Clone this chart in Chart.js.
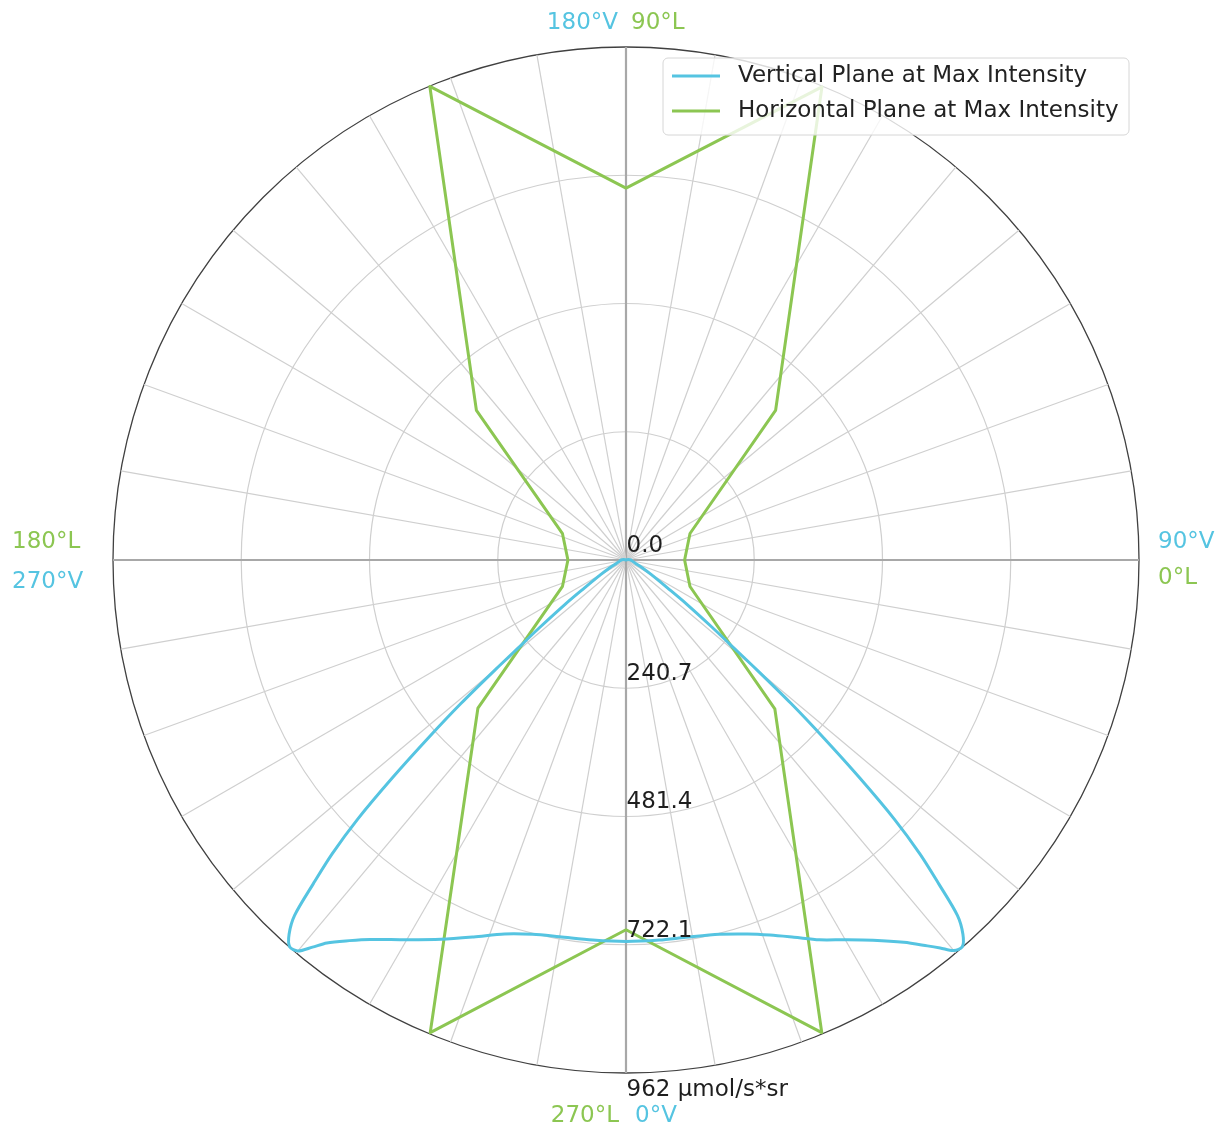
<!DOCTYPE html>
<html>
<head>
<meta charset="utf-8">
<title>Photon intensity distribution</title>
<script src="https://cdn.jsdelivr.net/npm/chart.js@4.4.1/dist/chart.umd.min.js"></script>
<style>
  html, body { margin: 0; padding: 0; background: #ffffff; }
  canvas { display: block; }
</style>
</head>
<body>
<canvas id="polar" width="1218" height="1131"></canvas>
<script>
// Vertical plane at max intensity: angle in degrees (0° = nadir, counter-clockwise), intensity in µmol/s*sr
const V_ANGLES = [0, 5, 9, 14, 18, 21, 24, 27, 30, 33, 36, 38, 39, 40, 41, 42, 43, 44, 45, 46, 47, 48, 49, 50,
                  51, 52, 54, 56, 60, 65, 70, 80, 90, 100, 110, 180, 250, 260, 270, 280, 290, 295, 300, 304,
                  306, 308, 309, 310, 311, 312, 313, 314, 315, 316, 317, 318, 319, 320, 321, 322, 324, 326,
                  330, 334, 338, 342, 346, 350, 355];
const V_VALUES = [716, 716, 717, 724, 738, 754, 775, 800, 823, 851, 887, 919, 937, 957, 962, 945, 912, 845, 780, 700,
                  600, 500, 410, 320, 250, 205, 140, 95, 55, 32, 20, 12, 9, 5, 0, 0, 0, 5, 9, 12, 20, 32, 55, 95,
                  140, 205, 250, 320, 410, 500, 600, 700, 780, 845, 912, 945, 962, 958, 935, 912, 883, 859,
                  823, 792, 763, 738, 724, 718, 716];

// Horizontal plane at max intensity: angle in degrees (0° = right, counter-clockwise)
const L_ANGLES = [0, 22.5, 45, 67.5, 90, 112.5, 135, 157.5, 180, 202.5, 225, 247.5, 270, 292.5, 315, 337.5];
const L_VALUES = [110, 130, 397, 961, 698, 962, 397, 129, 109, 129, 393, 960, 694, 960, 395, 130];

// Radial rings and their labels
const RING_VALUES = [0, 240.7, 481.4, 722.1, 962.8];
const RING_LABELS = ['0.0', '240.7', '481.4', '722.1', '962 µmol/s*sr'];

const SERIES_NAMES = ['Vertical Plane at Max Intensity', 'Horizontal Plane at Max Intensity'];

// Direction labels (bottom, right, top, left)
const V_DIRECTION_LABELS = ['0°V', '90°V', '180°V', '270°V'];
const L_DIRECTION_LABELS = ['270°L', '0°L', '90°L', '180°L'];

const BLUE = '#55C4E1';
const GREEN = '#8CC652';
const FONT = '23px "DejaVu Sans", "Liberation Sans", sans-serif';

// Angular resolution of the radar grid: half a degree per category
const STEPS_PER_DEG = 2;
const N = 360 * STEPS_PER_DEG;

// Category index 0 sits at the bottom and indices run clockwise on screen
const indexForVertical = a => Math.round((((360 - a) % 360) + 360) % 360 * STEPS_PER_DEG);
const indexForHorizontal = a => Math.round((((270 - a) % 360) + 360) % 360 * STEPS_PER_DEG);

function placeSeries(angles, values, toIndex) {
  const out = new Array(N).fill(null);
  angles.forEach((a, k) => { out[toIndex(a)] = values[k]; });
  return out;
}

const verticalData = placeSeries(V_ANGLES, V_VALUES, indexForVertical);
const horizontalData = placeSeries(L_ANGLES, L_VALUES, indexForHorizontal);

const decorations = {
  id: 'decorations',
  afterDraw(chart) {
    const s = chart.scales.r;
    const ctx = chart.ctx;
    const cx = s.xCenter, cy = s.yCenter, R = s.drawingArea;
    ctx.save();
    ctx.font = FONT;

    // ring value labels along the downward axis
    ctx.fillStyle = '#1e1e1e';
    ctx.textAlign = 'left';
    ctx.textBaseline = 'middle';
    RING_VALUES.forEach((v, i) => {
      const d = s.getDistanceFromCenterForValue(v);
      const last = i === RING_VALUES.length - 1;
      ctx.fillText(RING_LABELS[i], cx + 0.5, cy + d + (last ? 17 : -14));
    });

    // direction labels
    const put = (text, color, align, x, y) => {
      ctx.fillStyle = color;
      ctx.textAlign = align;
      ctx.fillText(text, x, y);
    };
    // top
    put(V_DIRECTION_LABELS[2], BLUE, 'right', cx - 8, cy - R - 24);
    put(L_DIRECTION_LABELS[2], GREEN, 'left', cx + 5, cy - R - 24);
    // bottom
    put(L_DIRECTION_LABELS[0], GREEN, 'right', cx - 7, cy + R + 43);
    put(V_DIRECTION_LABELS[0], BLUE, 'left', cx + 9, cy + R + 43);
    // right
    put(V_DIRECTION_LABELS[1], BLUE, 'left', cx + R + 19, cy - 18);
    put(L_DIRECTION_LABELS[1], GREEN, 'left', cx + R + 19, cy + 18);
    // left
    put(L_DIRECTION_LABELS[3], GREEN, 'left', cx - R - 101, cy - 18);
    put(V_DIRECTION_LABELS[3], BLUE, 'left', cx - R - 101, cy + 22);

    // legend box in the upper right
    const bx = cx + 37, by = cy - 502, bw = 466, bh = 77, rr = 5;
    ctx.beginPath();
    ctx.moveTo(bx + rr, by);
    ctx.arcTo(bx + bw, by, bx + bw, by + bh, rr);
    ctx.arcTo(bx + bw, by + bh, bx, by + bh, rr);
    ctx.arcTo(bx, by + bh, bx, by, rr);
    ctx.arcTo(bx, by, bx + bw, by, rr);
    ctx.closePath();
    ctx.fillStyle = 'rgba(255,255,255,0.8)';
    ctx.fill();
    ctx.lineWidth = 1;
    ctx.strokeStyle = '#d6d6d6';
    ctx.stroke();

    const rows = [[SERIES_NAMES[0], BLUE], [SERIES_NAMES[1], GREEN]];
    rows.forEach(([name, color], k) => {
      const y = by + 18 + k * 35;
      ctx.beginPath();
      ctx.moveTo(bx + 9, y);
      ctx.lineTo(bx + 57, y);
      ctx.lineWidth = 3;
      ctx.strokeStyle = color;
      ctx.stroke();
      ctx.fillStyle = '#222222';
      ctx.textAlign = 'left';
      ctx.textBaseline = 'middle';
      ctx.fillText(name, bx + 75, y);
    });
    ctx.restore();
  }
};

const lastRing = RING_VALUES.length - 1;

new Chart(document.getElementById('polar'), {
  type: 'radar',
  data: {
    labels: new Array(N).fill(''),
    datasets: [
      {
        label: SERIES_NAMES[0],
        data: verticalData,
        borderColor: BLUE,
        borderWidth: 3,
        pointRadius: 0,
        fill: false,
        spanGaps: true,
        tension: 0.3
      },
      {
        label: SERIES_NAMES[1],
        data: horizontalData,
        borderColor: GREEN,
        borderWidth: 3,
        pointRadius: 0,
        fill: false,
        spanGaps: true,
        tension: 0
      }
    ]
  },
  options: {
    responsive: false,
    animation: false,
    events: [],
    layout: { padding: { left: 113, right: 79, top: 47, bottom: 58 } },
    plugins: {
      legend: { display: false },
      tooltip: { enabled: false }
    },
    elements: { line: { borderJoinStyle: 'round', capBezierPoints: false } },
    scales: {
      r: {
        min: 0,
        max: RING_VALUES[lastRing],
        startAngle: 180,
        afterBuildTicks: scale => { scale.ticks = RING_VALUES.map(value => ({ value })); },
        ticks: { display: false },
        pointLabels: { display: false },
        grid: {
          circular: true,
          color: c => c.index === lastRing ? '#404040' : '#cfcfcf',
          lineWidth: c => c.index === lastRing ? 1.3 : 1.2
        },
        angleLines: {
          display: true,
          color: c => (c.index % (90 * STEPS_PER_DEG) === 0) ? '#a8a8a8' : '#cfcfcf',
          lineWidth: c => (c.index % (10 * STEPS_PER_DEG) !== 0) ? 0 : (c.index % (90 * STEPS_PER_DEG) === 0 ? 2.2 : 1.2)
        }
      }
    }
  },
  plugins: [decorations]
});
</script>
</body>
</html>
